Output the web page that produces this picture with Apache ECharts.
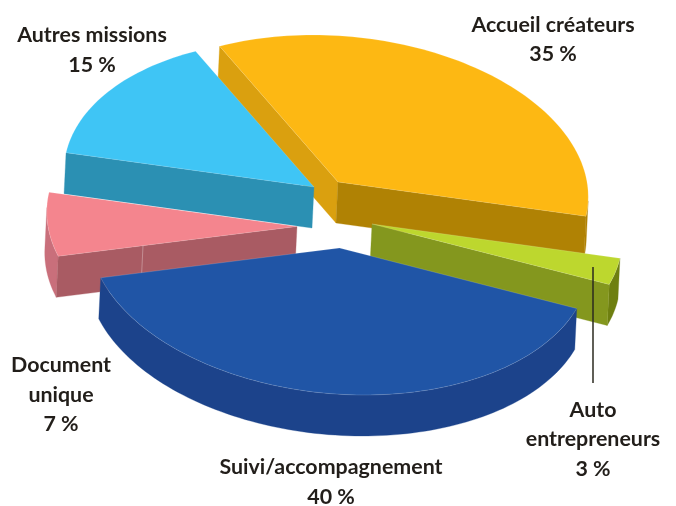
<!DOCTYPE html>
<html><head><meta charset="utf-8">
<style>html,body{margin:0;padding:0;background:#fff}#c{width:676px;height:506px}</style>
<script src="https://cdn.jsdelivr.net/npm/echarts@6/dist/echarts.min.js"></script>
</head><body><div id="c"></div>
<script>
// Data
const categories = ['Accueil créateurs', 'Auto\nentrepreneurs', 'Suivi/accompagnement', 'Document\nunique', 'Autres missions'];
const shares = [35, 3, 40, 7, 15];

// Styles and layout
const topColors   = ['#FDB813', '#BDD72E', '#2055A6', '#F4858E', '#3FC5F5'];
const startWalls  = ['#DAA00F', '#84971E', '#1C438B', '#A95B63', '#2B90B3'];
const endWalls    = ['#B08204', '#84971E', '#1C438B', '#A95B63', '#2B90B3'];
const rimColors   = ['#B08204', '#6E7F10', '#1C438B', '#C96F7B', '#2B90B3'];
const drawRank    = [0, 3, 4, 2, 1];
const explodeX    = [8, 42, 9.5, -33, -16];
const explodeY    = [-33, 9, 33, 11.5, -28];
const labelX      = [553, 593, 331, 61, 92];
const labelY      = [39.5, 439.5, 482, 395, 50];
const PIE = {cx: 330, cy: 215, rx: 249, ry: 147, shear: 25, depthX: -2, depthY: 41, startDeg: -22.5};
const RIM_FROM = 97.4, RIM_TO = 277.4;
const LEADER = {x: 593, y1: 267, y2: 383, color: '#2B2A1F'};
const SEAM = {slice: 3, t: 0.645};

const total = shares.reduce((a, b) => a + b, 0);
const rad = d => d * Math.PI / 180;
const angleOf = v => echarts.number.linearMap(v, [0, total], [PIE.startDeg, PIE.startDeg + 360]);
const rimPoint = (deg, ax, ay) => {
  const t = rad(deg);
  return [ax + PIE.rx * Math.sin(t) - PIE.shear * Math.cos(t), ay - PIE.ry * Math.cos(t)];
};
const drop = p => [p[0] + PIE.depthX, p[1] + PIE.depthY];
const arc = (a, b, ax, ay) => {
  const n = Math.max(2, Math.ceil(Math.abs(b - a) / 1.5));
  const pts = [];
  for (let i = 0; i <= n; i++) pts.push(rimPoint(a + (b - a) * i / n, ax, ay));
  return pts;
};
const cumBefore = i => shares.slice(0, i).reduce((a, b) => a + b, 0);

function renderItem(params, api) {
  const i = params.dataIndex;
  const value = api.value(0);
  const a0 = angleOf(cumBefore(i));
  const a1 = a0 + angleOf(value) - angleOf(0);
  const ax = PIE.cx + explodeX[i], ay = PIE.cy + explodeY[i];
  const apex = [ax, ay];
  const base = drawRank[i] * 10;
  const kids = [];
  const poly = (points, fill, z, stroke) => kids.push({
    type: 'polygon', silent: true, z2: base + z, shape: {points},
    style: {fill, stroke: stroke || fill, lineWidth: stroke ? 0.5 : 0.3, lineJoin: 'round'}
  });
  // outer wall, only where it faces the viewer
  const from = Math.max(a0, RIM_FROM), to = Math.min(a1, RIM_TO);
  if (to > from) { const p = arc(from, to, ax, ay); poly(p.concat(p.map(drop).reverse()), rimColors[i], 1); }
  // radial walls whose face turns downward
  const wall = (deg, fill) => {
    const e = rimPoint(deg, ax, ay);
    poly([apex, e, drop(e), drop(apex)], fill, 2);
  };
  if (Math.cos(rad(a0 - 90)) < 0) wall(a0, startWalls[i]);
  if (Math.cos(rad(a1 + 90)) < 0) wall(a1, endWalls[i]);
  if (i === SEAM.slice) {
    const e = rimPoint(a0, ax, ay);
    const s = [e[0] + (ax - e[0]) * (1 - SEAM.t), e[1] + (ay - e[1]) * (1 - SEAM.t)];
    kids.push({type: 'line', silent: true, z2: base + 3, shape: {x1: s[0], y1: s[1], x2: s[0] + PIE.depthX, y2: s[1] + PIE.depthY},
      style: {stroke: 'rgba(255,255,255,0.3)', lineWidth: 1}});
  }
  // top face
  poly([apex].concat(arc(a0, a1, ax, ay)), topColors[i], 4, 'rgba(255,255,255,0.3)');
  // label
  kids.push({type: 'text', silent: true, z2: 100, style: {
    text: categories[i] + '\n' + value + ' %', x: labelX[i], y: labelY[i],
    align: 'center', verticalAlign: 'middle', lineHeight: 29.5,
    fontFamily: 'Lato', fontWeight: 700, fontSize: 21.4, fill: '#221E1A'
  }});
  // leader line of the small slice
  if (i === 1) kids.push({type: 'line', silent: true, z2: 90, shape: {x1: LEADER.x, y1: LEADER.y1, x2: LEADER.x, y2: LEADER.y2},
    style: {stroke: LEADER.color, lineWidth: 1.5}});
  return {type: 'group', children: kids};
}

const chart = echarts.init(document.getElementById('c'), null, {renderer: 'canvas'});
chart.setOption({
  animation: false,
  backgroundColor: '#fff',
  series: [{
    type: 'custom', coordinateSystem: 'none', renderItem, clip: false,
    data: shares.map((v, i) => ({name: categories[i], value: [v]}))
  }]
});
</script></body></html>
